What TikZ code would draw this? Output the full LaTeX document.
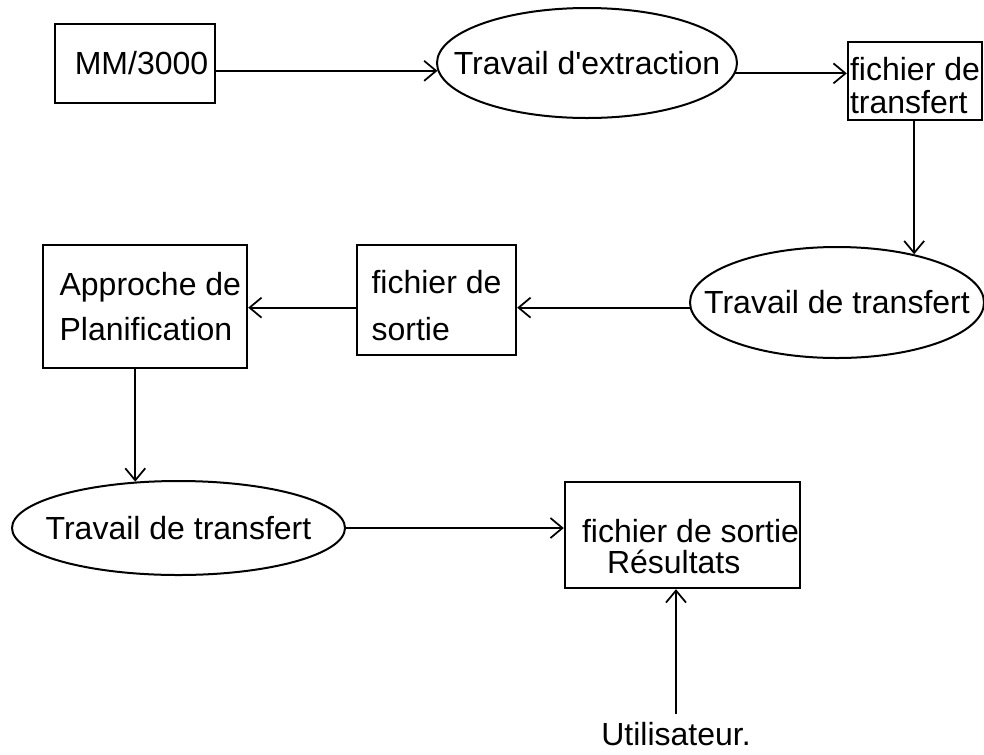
\documentclass[tikz,border=0pt]{standalone}
\usepackage{fontspec}
\setmainfont{Liberation Sans}
\usetikzlibrary{shapes.geometric,arrows.meta}
\begin{document}
\begin{tikzpicture}[x=0.75pt,y=-0.75pt,
  every node/.style={font=\fontsize{24}{28}\selectfont},
  boxnode/.style={draw, rectangle, line width=1.8pt, inner sep=0pt, align=left},
  ellnode/.style={draw, ellipse, line width=1.5pt, inner sep=0pt},
  arr/.style={line width=1.5pt, -{Straight Barb[length=9pt,width=15pt,line width=1.3pt]}}]
\useasboundingbox (0,0) rectangle (984,754);

% top row
\node[boxnode, minimum width=120pt, minimum height=59.25pt] (mm) at (135,63.5)
  {\hspace*{9.75pt}MM/3000};
\node[ellnode, minimum width=225pt, minimum height=82.5pt] (e1) at (587,63)
  {\makebox[0pt]{Travail d\textquotesingle extraction}};
\node[boxnode, minimum width=100.5pt, minimum height=58.5pt,
  font=\fontsize{24}{24.75}\selectfont] (tb) at (915,81)
  {\rule{0pt}{23.5pt}fichier de\\transfert};

% middle row
\node[ellnode, minimum width=220.5pt, minimum height=83.25pt] (e2) at (837,302.5)
  {\makebox[0pt]{Travail de transfert}};
\node[boxnode, minimum width=119.25pt, minimum height=82.5pt,
  font=\fontsize{24}{35.25}\selectfont] (fs) at (436.5,300)
  {\rule{0pt}{25pt}fichier de\\sortie};
\node[boxnode, minimum width=153pt, minimum height=92.25pt,
  font=\fontsize{24}{33.75}\selectfont] (ap) at (145,306.5)
  {\hspace*{8pt}Approche de\\\hspace*{8pt}Planification};

% bottom row
\node[ellnode, minimum width=249.75pt, minimum height=70.5pt] (e3) at (178.5,528)
  {\makebox[0pt]{Travail de transfert}};
\node[boxnode, minimum width=176.25pt, minimum height=79.5pt,
  font=\fontsize{24}{23.25}\selectfont] (rb) at (682.5,535)
  {\rule{0pt}{34pt}\hspace*{12pt}fichier de sortie\\\hspace*{30.75pt}Résultats};
\node[inner sep=0pt, inner ysep=6pt, anchor=base] (ut) at (676,745) {Utilisateur.};

% connectors
\draw[arr] (mm.east |- e1.183.5) -- (e1.183.5);
\draw[arr] (e1.356.5) -- (tb.west |- e1.356.5);
\draw[arr] (e2.32 |- tb.south) -- (e2.32);
\draw[arr] (e2.182) -- (fs.east |- e2.182);
\draw[arr] (fs.west |- e2.182) -- (ap.east |- e2.182);
\draw[arr] (e3.133 |- ap.south) -- (e3.133);
\draw[arr] (e3.east) -- (rb.west |- e3.east);
\draw[arr] (ut.north) -- (ut.north |- rb.south);
\end{tikzpicture}
\end{document}
